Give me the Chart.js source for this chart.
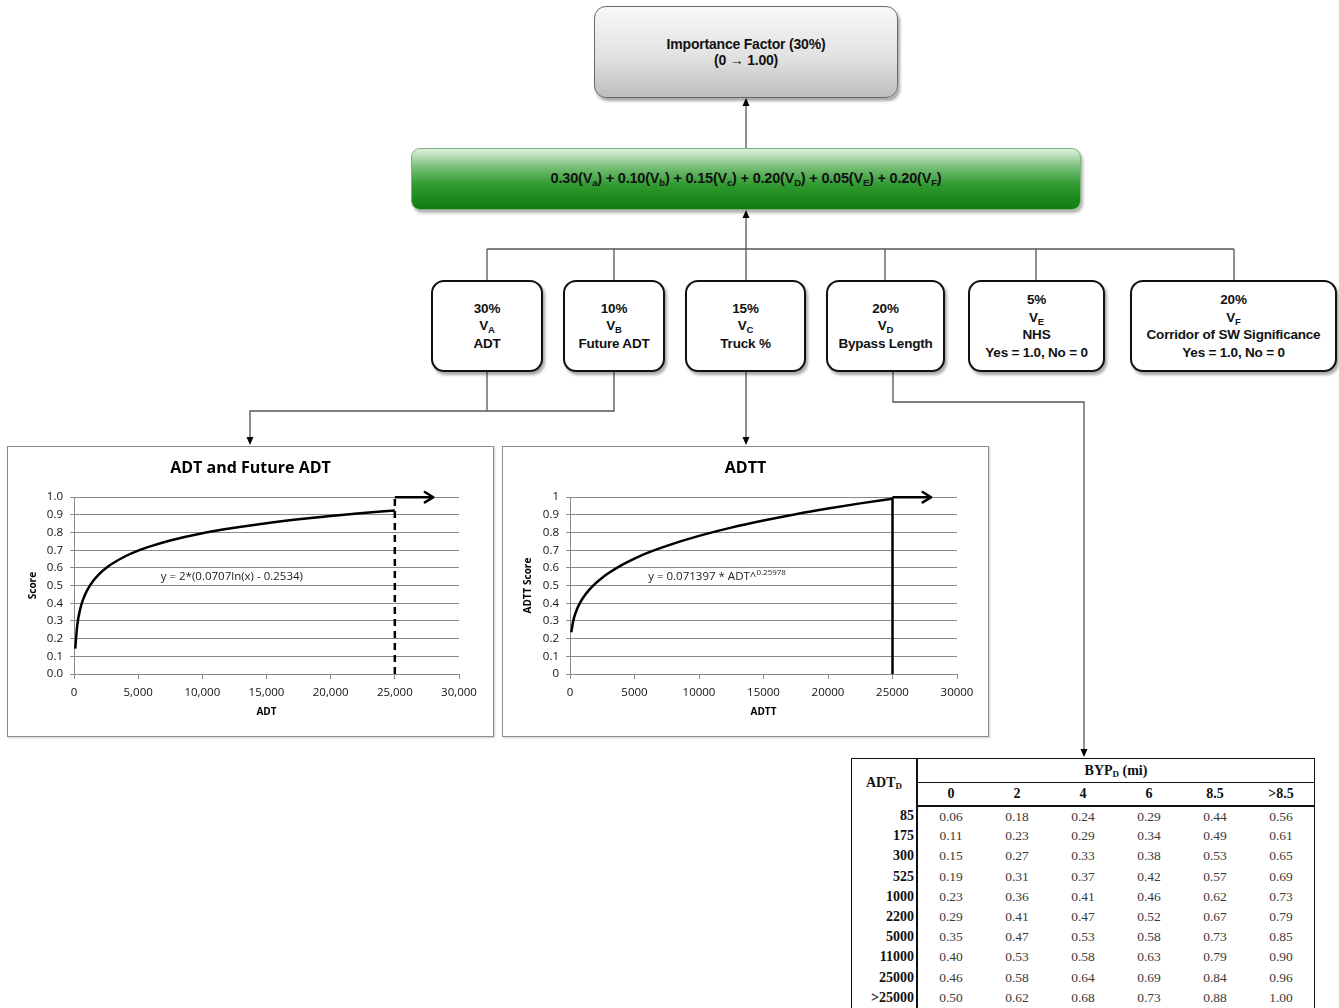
<!DOCTYPE html>
<html>
<head>
<meta charset="utf-8">
<title>Importance Factor</title>
<script src="https://cdn.jsdelivr.net/npm/chart.js@4.4.1/dist/chart.umd.min.js"></script>
<style>
  body { margin: 0; background: #fff; }
  #page { position: relative; width: 1339px; height: 1008px; overflow: hidden; font-family: "Liberation Sans", Arial, sans-serif; }
  svg { position: absolute; left: 0; top: 0; }
  .box { position: absolute; box-sizing: border-box; display: flex; align-items: center; justify-content: center; text-align: center; font-weight: bold; font-size: 13.5px; line-height: 17.5px; color: #111; letter-spacing: -0.2px; }
  .box sub { font-size: 9.5px; vertical-align: -3px; line-height: 0; }
  .factor { top: 280px; height: 92px; border: 2px solid #111; border-radius: 13px; background: #fff; box-shadow: 2px 3px 3px rgba(0,0,0,0.35); }
  #top { left: 594px; top: 6px; width: 304px; height: 92px; border: 1.5px solid #6a6a6a; border-radius: 12px; background: linear-gradient(#f8f8f8, #e2e2e2 55%, #bdbdbd); box-shadow: 2px 3px 3px rgba(0,0,0,0.35); line-height: 16px; font-size: 14px; }
  #formula { left: 411px; top: 148px; width: 670px; height: 62px; border: 1px solid #7db57d; border-radius: 9px; background: linear-gradient(#dff0dc, #78bf78 30%, #2f9a2f 60%, #0f7d0f); box-shadow: 2px 3px 3px rgba(0,0,0,0.3); font-size: 14.5px; }
  .frame { position: absolute; top: 446px; width: 487px; height: 291px; box-sizing: border-box; border: 1px solid #8c8c8c; box-shadow: 1px 1px 2px rgba(0,0,0,0.2); background: #fff; }
  #byp { position: absolute; left: 851px; top: 758px; border-collapse: collapse; font-family: "Liberation Serif", "Times New Roman", serif; font-size: 13.5px; border: 1.5px solid #111; color: #111; }
  #byp th, #byp td { padding: 0; }
  #byp th { font-weight: bold; }
  #byp .corner { width: 64px; border-left: 1.5px solid #111; border-right: 2px solid #111; font-size: 14px; vertical-align: middle; }
  #byp .grp { height: 23px; border-bottom: 1.5px solid #111; font-size: 14px; }
  #byp .colh { width: 66px; height: 22px; border-bottom: 2px solid #111; font-size: 14px; }
  #byp .rowh { height: 20.2px; text-align: right; padding-right: 2px; border-left: 1.5px solid #111; border-right: 2px solid #111; font-size: 14px; font-weight: bold; }
  #byp .val { text-align: center; color: #3a3a3a; }
  #byp sub { font-size: 9px; vertical-align: -2px; line-height: 0; }
</style>
</head>
<body>
<div id="page">
  <svg width="1339" height="1008">
    <g stroke="#555" stroke-width="1.3" fill="none">
      <line x1="746" y1="148" x2="746" y2="104"/>
      <line x1="746" y1="280" x2="746" y2="216"/>
      <line x1="487" y1="249" x2="1234" y2="249"/>
      <line x1="487" y1="249" x2="487" y2="280"/>
      <line x1="614" y1="249" x2="614" y2="280"/>
      <line x1="885" y1="249" x2="885" y2="280"/>
      <line x1="1036" y1="249" x2="1036" y2="280"/>
      <line x1="1234" y1="249" x2="1234" y2="280"/>
      <line x1="487" y1="372" x2="487" y2="411"/>
      <polyline points="614,372 614,411 250,411 250,438"/>
      <line x1="746" y1="372" x2="746" y2="438"/>
      <polyline points="893,372 893,402 1084,402 1084,750"/>
    </g>
    <g fill="#000">
      <polygon points="746,98 742.5,106 749.5,106"/>
      <polygon points="746,210 742.5,218 749.5,218"/>
      <polygon points="250,445 246.5,437 253.5,437"/>
      <polygon points="746,445 742.5,437 749.5,437"/>
      <polygon points="1084,757 1080.5,749 1087.5,749"/>
    </g>
  </svg>

  <div class="box" id="top"><div>Importance Factor (30%)<br>(0 &rarr; 1.00)</div></div>
  <div class="box" id="formula"><div>0.30(V<sub>a</sub>) + 0.10(V<sub>b</sub>) + 0.15(V<sub>c</sub>) + 0.20(V<sub>D</sub>) + 0.05(V<sub>E</sub>) + 0.20(V<sub>F</sub>)</div></div>

  <div class="box factor" style="left:431px;width:112px"><div>30%<br>V<sub>A</sub><br>ADT</div></div>
  <div class="box factor" style="left:563px;width:102px"><div>10%<br>V<sub>B</sub><br>Future ADT</div></div>
  <div class="box factor" style="left:685px;width:121px"><div>15%<br>V<sub>C</sub><br>Truck %</div></div>
  <div class="box factor" style="left:826px;width:119px"><div>20%<br>V<sub>D</sub><br>Bypass Length</div></div>
  <div class="box factor" style="left:968px;width:137px"><div>5%<br>V<sub>E</sub><br>NHS<br>Yes = 1.0, No = 0</div></div>
  <div class="box factor" style="left:1130px;width:207px"><div>20%<br>V<sub>F</sub><br>Corridor of SW Significance<br>Yes = 1.0, No = 0</div></div>

  <div class="frame" style="left:7px"><canvas id="adtChart" width="485" height="289"></canvas></div>
  <div class="frame" style="left:502px"><canvas id="adttChart" width="485" height="289"></canvas></div>

  <table id="byp"></table>
</div>

<script>
// ADT score curve
const adtX = [100, 250, 500, 750, 1000, 1500, 2000, 2500, 3000, 4000, 5000, 6000, 7500, 10000, 12500, 15000, 17500, 20000, 22500, 25000];
const adtScore = [0.144, 0.274, 0.372, 0.429, 0.470, 0.527, 0.568, 0.600, 0.625, 0.666, 0.698, 0.723, 0.755, 0.796, 0.827, 0.853, 0.875, 0.894, 0.910, 0.925];

// ADTT score curve
const adttX = [100, 250, 500, 750, 1000, 1500, 2000, 2500, 3000, 4000, 5000, 6000, 7500, 10000, 12500, 15000, 17500, 20000, 22500, 25000];
const adttScore = [0.236, 0.300, 0.359, 0.399, 0.430, 0.477, 0.514, 0.545, 0.571, 0.616, 0.653, 0.685, 0.725, 0.781, 0.828, 0.868, 0.904, 0.936, 0.965, 0.991];

// cap markers: vertical at the cap, then arrow to the right
const capX = [25000, 25000];
const capY = [0, 1];
const arrowX = [25000, 28000];
const arrowY = [1, 1];

// bypass table
const adtRows = ["85", "175", "300", "525", "1000", "2200", "5000", "11000", "25000", ">25000"];
const bypCols = ["0", "2", "4", "6", "8.5", ">8.5"];
const byp0 = [0.06, 0.11, 0.15, 0.19, 0.23, 0.29, 0.35, 0.40, 0.46, 0.50];
const byp2 = [0.18, 0.23, 0.27, 0.31, 0.36, 0.41, 0.47, 0.53, 0.58, 0.62];
const byp4 = [0.24, 0.29, 0.33, 0.37, 0.41, 0.47, 0.53, 0.58, 0.64, 0.68];
const byp6 = [0.29, 0.34, 0.38, 0.42, 0.46, 0.52, 0.58, 0.63, 0.69, 0.73];
const byp85 = [0.44, 0.49, 0.53, 0.57, 0.62, 0.67, 0.73, 0.79, 0.84, 0.88];
const bypOver = [0.56, 0.61, 0.65, 0.69, 0.73, 0.79, 0.85, 0.90, 0.96, 1.00];

const FONT = "'Open Sans', 'Noto Sans', sans-serif";

function pairs(xs, ys) {
  return xs.map((x, i) => ({ x: x, y: ys[i] }));
}

// draws an open chevron at the end of datasets flagged with arrow
const arrowHeads = {
  id: "arrowHeads",
  afterDatasetsDraw(chart) {
    const ctx = chart.ctx;
    chart.data.datasets.forEach((ds, i) => {
      if (!ds.arrow) return;
      const pts = chart.getDatasetMeta(i).data;
      const a = pts[pts.length - 2], b = pts[pts.length - 1];
      const ang = Math.atan2(b.y - a.y, b.x - a.x);
      ctx.save();
      ctx.strokeStyle = ds.borderColor;
      ctx.lineWidth = ds.borderWidth;
      ctx.lineCap = "round";
      ctx.lineJoin = "round";
      ctx.beginPath();
      ctx.moveTo(b.x - 10 * Math.cos(ang - 0.55), b.y - 10 * Math.sin(ang - 0.55));
      ctx.lineTo(b.x, b.y);
      ctx.lineTo(b.x - 10 * Math.cos(ang + 0.55), b.y - 10 * Math.sin(ang + 0.55));
      ctx.stroke();
      ctx.restore();
    });
  },
};

// equation text placed in data coordinates
const eqLabel = {
  id: "eqLabel",
  afterDatasetsDraw(chart, args, opts) {
    const ctx = chart.ctx;
    const px = chart.scales.x.getPixelForValue(opts.x);
    const py = chart.scales.y.getPixelForValue(opts.y);
    ctx.save();
    ctx.fillStyle = "#222";
    ctx.textBaseline = "middle";
    ctx.font = "11.5px " + FONT;
    const w1 = ctx.measureText(opts.text).width;
    ctx.font = "8px " + FONT;
    const w2 = opts.sup ? ctx.measureText(opts.sup).width : 0;
    const x0 = px - (w1 + w2) / 2;
    ctx.font = "11.5px " + FONT;
    ctx.fillText(opts.text, x0, py);
    if (opts.sup) {
      ctx.font = "8px " + FONT;
      ctx.fillText(opts.sup, x0 + w1, py - 4);
    }
    ctx.restore();
  },
};

// center the chart title on the whole frame, not the padded area
const fullTitle = {
  id: "fullTitle",
  afterLayout(chart) {
    if (chart.titleBlock) {
      chart.titleBlock.left = 0;
      chart.titleBlock.right = chart.width;
    }
  },
};

function makeChart(id, opts) {
  const ctx = document.getElementById(id).getContext("2d");
  return new Chart(ctx, {
    type: "line",
    data: {
      datasets: [
        {
          data: pairs(opts.xs, opts.ys),
          borderColor: "#000",
          borderWidth: 2.5,
          pointRadius: 0,
          tension: 0.4,
          cubicInterpolationMode: "monotone",
        },
        {
          data: pairs(capX, capY),
          borderColor: "#000",
          borderWidth: 2.5,
          borderDash: opts.dashed ? [7, 5] : [],
          pointRadius: 0,
          clip: false,
        },
        {
          data: pairs(arrowX, arrowY),
          borderColor: "#000",
          borderWidth: 2.5,
          pointRadius: 0,
          clip: false,
          arrow: true,
        },
      ],
    },
    options: {
      responsive: false,
      animation: false,
      layout: { padding: { left: 0, right: opts.padRight, top: 0, bottom: 0 } },
      plugins: {
        legend: { display: false },
        tooltip: { enabled: false },
        title: {
          display: true,
          text: opts.title,
          color: "#000",
          font: { family: FONT, size: 16, weight: "bold", lineHeight: 1.2 },
          padding: { top: 12, bottom: 19 },
        },
        eqLabel: opts.eq,
      },
      scales: {
        x: {
          type: "linear",
          min: 0,
          max: 30000,
          afterFit: (s) => { s.height = 62; },
          ticks: {
            stepSize: 5000,
            color: "#111",
            padding: 7,
            maxRotation: 0,
            font: { family: FONT, size: 11.5 },
            callback: opts.xFormat,
          },
          grid: { drawOnChartArea: false, drawTicks: true, tickLength: 5, color: "#8a8a8a" },
          border: { color: "#8a8a8a" },
          title: {
            display: true,
            text: opts.xTitle,
            color: "#000",
            font: { family: FONT, size: 10, weight: "bold", lineHeight: 1.2 },
            padding: { top: 0, bottom: 18 },
          },
        },
        y: {
          min: 0,
          max: 1,
          afterFit: (s) => { s.width = opts.yWidth; },
          ticks: {
            stepSize: 0.1,
            color: "#111",
            padding: 7,
            font: { family: FONT, size: 11.5 },
            callback: opts.yFormat,
          },
          grid: { color: "#8a8a8a", tickLength: 4 },
          border: { color: "#8a8a8a" },
          title: {
            display: true,
            text: opts.yTitle,
            color: "#000",
            font: { family: FONT, size: 10, weight: "bold", lineHeight: 1.2 },
            padding: { top: 19, bottom: 0 },
          },
        },
      },
    },
    plugins: [arrowHeads, eqLabel, fullTitle],
  });
}

makeChart("adtChart", {
  xs: adtX,
  ys: adtScore,
  dashed: true,
  title: "ADT and Future ADT",
  xTitle: "ADT",
  yTitle: "Score",
  yWidth: 66,
  padRight: 34,
  xFormat: (v) => v.toLocaleString("en-US"),
  yFormat: (v) => v.toFixed(1),
  eq: { x: 12300, y: 0.548, text: "y = 2*(0.0707ln(x) - 0.2534)" },
});

makeChart("adttChart", {
  xs: adttX,
  ys: adttScore,
  dashed: false,
  title: "ADTT",
  xTitle: "ADTT",
  yTitle: "ADTT Score",
  yWidth: 67,
  padRight: 31,
  xFormat: (v) => String(v),
  yFormat: (v) => (v === 0 || v === 1 ? String(v) : v.toFixed(1)),
  eq: { x: 11400, y: 0.548, text: "y = 0.071397 * ADT^", sup: "0.25978" },
});

// table
const bypValues = [byp0, byp2, byp4, byp6, byp85, bypOver];
const table = document.getElementById("byp");
let html = '<tr><th rowspan="2" class="corner">ADT<sub>D</sub></th><th colspan="6" class="grp">BYP<sub>D</sub> (mi)</th></tr><tr>';
bypCols.forEach((c) => { html += '<th class="colh">' + c.replace(">", "&gt;") + "</th>"; });
html += "</tr>";
adtRows.forEach((r, i) => {
  html += '<tr><td class="rowh">' + r.replace(">", "&gt;") + "</td>";
  bypValues.forEach((col) => { html += '<td class="val">' + col[i].toFixed(2) + "</td>"; });
  html += "</tr>";
});
table.innerHTML = html;
</script>
</body>
</html>
